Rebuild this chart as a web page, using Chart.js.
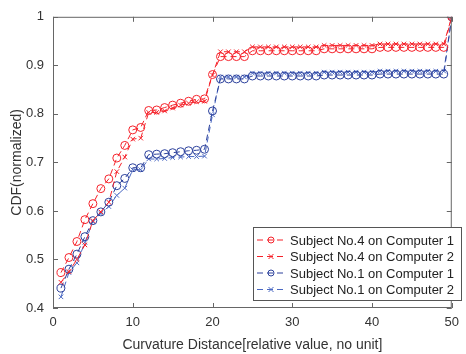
<!DOCTYPE html>
<html>
<head>
<meta charset="utf-8">
<script src="https://cdn.jsdelivr.net/npm/chart.js@4/dist/chart.umd.min.js"></script>
<style>
  html, body { margin: 0; padding: 0; background: #fff; }
  #wrap { width: 466px; height: 354px; position: relative; }
</style>
</head>
<body>
<div id="wrap"><canvas id="myChart"></canvas></div>
<script>
// x positions 1..50
const distances = [];
for (let i = 1; i <= 50; i++) distances.push(i);

const sub4comp1 = [0.473, 0.504, 0.537, 0.582, 0.615, 0.646, 0.666, 0.709, 0.735, 0.767,
  0.772, 0.807, 0.808, 0.813, 0.818, 0.822, 0.826, 0.830, 0.831, 0.881,
  0.918, 0.918, 0.918, 0.918, 0.930, 0.930, 0.930, 0.930, 0.930, 0.930,
  0.930, 0.930, 0.930, 0.934, 0.934, 0.934, 0.934, 0.934, 0.934, 0.934,
  0.937, 0.937, 0.937, 0.937, 0.937, 0.937, 0.937, 0.937, 0.937, 1.0];
const sub4comp2 = [0.453, 0.475, 0.500, 0.530, 0.580, 0.598, 0.618, 0.681, 0.711, 0.748,
  0.750, 0.803, 0.803, 0.806, 0.812, 0.818, 0.822, 0.825, 0.826, 0.880,
  0.928, 0.928, 0.928, 0.928, 0.938, 0.938, 0.938, 0.938, 0.938, 0.938,
  0.938, 0.938, 0.938, 0.941, 0.941, 0.941, 0.941, 0.941, 0.941, 0.941,
  0.944, 0.944, 0.944, 0.944, 0.944, 0.944, 0.944, 0.944, 0.944, 1.0];
const sub1comp1 = [0.441, 0.480, 0.511, 0.547, 0.580, 0.598, 0.618, 0.652, 0.667, 0.689,
  0.689, 0.716, 0.717, 0.718, 0.720, 0.722, 0.724, 0.725, 0.727, 0.806,
  0.872, 0.872, 0.872, 0.872, 0.878, 0.878, 0.878, 0.878, 0.878, 0.878,
  0.878, 0.878, 0.878, 0.880, 0.880, 0.880, 0.880, 0.880, 0.880, 0.880,
  0.882, 0.882, 0.882, 0.882, 0.882, 0.882, 0.882, 0.882, 0.882, 1.0];
const sub1comp2 = [0.423, 0.473, 0.493, 0.535, 0.578, 0.595, 0.609, 0.632, 0.647, 0.685,
  0.685, 0.707, 0.707, 0.708, 0.710, 0.711, 0.712, 0.712, 0.713, 0.798,
  0.876, 0.876, 0.876, 0.876, 0.884, 0.884, 0.884, 0.884, 0.884, 0.884,
  0.884, 0.884, 0.884, 0.886, 0.886, 0.886, 0.886, 0.886, 0.886, 0.886,
  0.888, 0.888, 0.888, 0.888, 0.888, 0.888, 0.888, 0.888, 0.888, 1.0];

const seriesNames = ['Subject No.4 on Computer 1', 'Subject No.4 on Computer 2',
  'Subject No.1 on Computer 1', 'Subject No.1 on Computer 2'];
const xTicks = [0, 10, 20, 30, 40, 50];
const yTicks = [0.4, 0.5, 0.6, 0.7, 0.8, 0.9, 1];

const RED = '#f5222a';
const BLUE = '#2c419c';
const BLUE2 = '#4a68c2';
const AXIS = '#666666';
const TEXT = '#333333';
const FONT = '"Liberation Sans", Arial, sans-serif';

function pts(ys) {
  return ys.map((y, i) => ({ x: distances[i], y: y }));
}

function makeSet(label, ys, color, style) {
  return {
    label: label,
    data: pts(ys),
    borderColor: color,
    backgroundColor: 'rgba(0,0,0,0)',
    borderWidth: 1,
    borderDash: [6, 4],
    pointStyle: style,
    pointRadius: style === 'circle' ? 4 : 3.2,
    pointBorderColor: color,
    pointBorderWidth: 1,
    pointBackgroundColor: 'rgba(0,0,0,0)',
    tension: 0
  };
}

// box, inward ticks and legend
const matlabAxes = {
  id: 'matlabAxes',
  afterDraw(chart) {
    const c = chart.ctx;
    const a = chart.chartArea;
    const xs = chart.scales.x, ys = chart.scales.y;
    c.save();
    c.strokeStyle = AXIS;
    c.lineWidth = 1;
    c.strokeRect(a.left + 0.5, a.top + 0.5, a.right - a.left - 1, a.bottom - a.top - 1);
    c.beginPath();
    xTicks.forEach(v => {
      const px = Math.round(xs.getPixelForValue(v)) + 0.5;
      c.moveTo(px, a.bottom); c.lineTo(px, a.bottom - 5);
      c.moveTo(px, a.top); c.lineTo(px, a.top + 5);
    });
    yTicks.forEach(v => {
      const py = Math.round(ys.getPixelForValue(v)) + 0.5;
      c.moveTo(a.left, py); c.lineTo(a.left + 5, py);
      c.moveTo(a.right, py); c.lineTo(a.right - 5, py);
    });
    c.stroke();

    // legend
    const lx = 253, ly = 227, lw = 208, lh = 73;
    c.fillStyle = '#fff';
    c.fillRect(lx, ly, lw, lh);
    c.strokeStyle = '#555';
    c.strokeRect(lx + 0.5, ly + 0.5, lw, lh);
    chart.data.datasets.forEach((ds, i) => {
      const yy = ly + 13 + i * 16.5;
      c.strokeStyle = ds.borderColor;
      c.lineWidth = 1;
      c.setLineDash([6, 4]);
      c.beginPath();
      c.moveTo(lx + 4, yy); c.lineTo(lx + 34, yy);
      c.stroke();
      c.setLineDash([]);
      const mx = lx + 18;
      c.beginPath();
      if (ds.pointStyle === 'circle') {
        c.arc(mx, yy, 3, 0, Math.PI * 2);
      } else {
        c.moveTo(mx - 2.5, yy - 2.5); c.lineTo(mx + 2.5, yy + 2.5);
        c.moveTo(mx + 2.5, yy - 2.5); c.lineTo(mx - 2.5, yy + 2.5);
      }
      c.stroke();
      c.fillStyle = '#222';
      c.font = '13px ' + FONT;
      c.textBaseline = 'middle';
      c.fillText(ds.label, lx + 37, yy + 1);
    });
    c.restore();
  }
};

const ctx = document.getElementById('myChart');
const myChart = new Chart(ctx, {
  type: 'line',
  data: {
    datasets: [
      makeSet(seriesNames[0], sub4comp1, RED, 'circle'),
      makeSet(seriesNames[1], sub4comp2, RED, 'crossRot'),
      makeSet(seriesNames[2], sub1comp1, BLUE, 'circle'),
      makeSet(seriesNames[3], sub1comp2, BLUE2, 'crossRot')
    ]
  },
  options: {
    responsive: true,
    maintainAspectRatio: false,
    animation: false,
    layout: { padding: { left: 0, right: 5, top: 9, bottom: 0 } },
    scales: {
      x: {
        type: 'linear',
        min: 0,
        max: 50,
        afterBuildTicks: s => { s.ticks = xTicks.map(v => ({ value: v })); },
        afterFit: s => { s.height = 46; },
        grid: { display: false, drawTicks: false },
        border: { display: false },
        ticks: { color: TEXT, font: { size: 13, family: FONT }, padding: 7, maxRotation: 0 },
        title: {
          display: true,
          text: 'Curvature Distance[relative value, no unit]',
          color: TEXT,
          font: { size: 14, family: FONT },
          padding: { top: 1, bottom: 0 }
        }
      },
      y: {
        type: 'linear',
        min: 0.4,
        max: 1,
        afterBuildTicks: s => { s.ticks = yTicks.map(v => ({ value: v })); },
        afterFit: s => { s.width = 53; },
        grid: { display: false, drawTicks: false },
        border: { display: false },
        ticks: {
          color: TEXT,
          font: { size: 13, family: FONT },
          padding: 9,
          callback: v => String(Math.round(v * 10) / 10)
        },
        title: {
          display: true,
          text: 'CDF(normalized)',
          color: TEXT,
          font: { size: 14, family: FONT },
          padding: { top: 9, bottom: 0 }
        }
      }
    },
    plugins: {
      legend: { display: false },
      tooltip: { enabled: false }
    }
  },
  plugins: [matlabAxes]
});
</script>
</body>
</html>
